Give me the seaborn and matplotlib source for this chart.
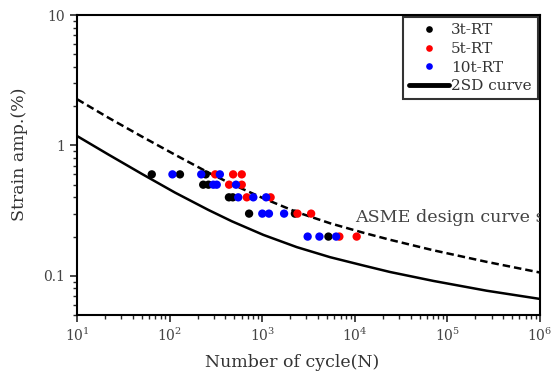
import matplotlib
matplotlib.use("Agg")
import matplotlib.pyplot as plt
import matplotlib.ticker as mticker
import pandas as pd
import seaborn as sns

# Test data (cycles to failure, strain amplitude %)
n_3t = [64, 129, 245, 230, 262, 436, 480, 720, 2250, 5180]
e_3t = [0.6, 0.6, 0.6, 0.5, 0.5, 0.4, 0.4, 0.3, 0.3, 0.2]
n_5t = [310, 484, 600, 438, 600, 680, 1230, 2400, 3370, 6800, 10460]
e_5t = [0.6, 0.6, 0.6, 0.5, 0.5, 0.4, 0.4, 0.3, 0.3, 0.2, 0.2]
n_10t = [107, 219, 348, 296, 322, 520, 550, 800, 1100, 1000, 1180, 1720, 3090, 4140, 6270]
e_10t = [0.6, 0.6, 0.6, 0.5, 0.5, 0.5, 0.4, 0.4, 0.4, 0.3, 0.3, 0.3, 0.2, 0.2, 0.2]

# Curves
n_curve = [10, 21.8, 50, 114, 262, 469, 1028, 2360, 5400, 12360, 24000, 70500, 265000, 1e6]
sd2_curve = [1.18, 0.851, 0.605, 0.435, 0.320, 0.262, 0.206, 0.166, 0.139, 0.120, 0.107, 0.0914, 0.0769, 0.0665]
asme_curve = [2.26, 1.63, 1.17, 0.849, 0.619, 0.505, 0.393, 0.308, 0.253, 0.214, 0.189, 0.157, 0.128, 0.106]

groups = ["3t-RT", "5t-RT", "10t-RT"]
colors = {"3t-RT": "#000000", "5t-RT": "#ff0000", "10t-RT": "#0000ff"}

df = pd.concat([
    pd.DataFrame({"N": n_3t, "strain": e_3t, "group": "3t-RT"}),
    pd.DataFrame({"N": n_5t, "strain": e_5t, "group": "5t-RT"}),
    pd.DataFrame({"N": n_10t, "strain": e_10t, "group": "10t-RT"}),
])

sns.set_style("ticks")
plt.rcParams["font.family"] = ["DejaVu Serif"]
plt.rcParams["mathtext.fontset"] = "dejavuserif"

fig, ax = plt.subplots(figsize=(5.55, 3.76), dpi=100)
fig.subplots_adjust(left=0.139, right=0.973, top=0.960, bottom=0.162)
ax.set_xscale("log")
ax.set_yscale("log")

sns.lineplot(x=n_curve, y=sd2_curve, color="black", lw=1.8, sort=False,
             estimator=None, label="2SD curve", ax=ax)
sns.lineplot(x=n_curve, y=asme_curve, color="black", lw=1.8, sort=False,
             estimator=None, linestyle=(0, (3, 1.6)), ax=ax)
sns.scatterplot(data=df, x="N", y="strain", hue="group", hue_order=groups,
                palette=colors, s=36, linewidth=0, ax=ax, zorder=3)

ax.text(1.0e4, 0.278, "ASME design curve s", fontsize=12.6, color="#444444",
        va="center", ha="left", clip_on=True)

ax.set_xlim(10, 1e6)
ax.set_ylim(0.05, 10)
ax.yaxis.set_major_locator(mticker.FixedLocator([0.1, 1, 10]))
ax.yaxis.set_major_formatter(mticker.FixedFormatter(["0.1", "1", "10"]))
ax.yaxis.set_minor_locator(mticker.LogLocator(base=10, subs=range(2, 10)))
ax.yaxis.set_minor_formatter(mticker.NullFormatter())
ax.xaxis.set_minor_locator(mticker.LogLocator(base=10, subs=range(2, 10)))
ax.xaxis.set_minor_formatter(mticker.NullFormatter())

ax.tick_params(which="major", direction="out", length=5, width=1.2,
               labelsize=10, labelcolor="#444444", top=False, right=False)
ax.tick_params(which="minor", direction="out", length=3, width=1.0,
               top=False, right=False)
for sp in ax.spines.values():
    sp.set_linewidth(1.5)
    sp.set_color("black")

ax.set_xlabel("Number of cycle(N)", fontsize=12.5, color="#333333", labelpad=7)
ax.set_ylabel("Strain amp.(%)", fontsize=12.5, color="#333333", labelpad=11)
ax.xaxis.label.set_x(0.465)
ax.yaxis.label.set_y(0.535)

handles, labels = ax.get_legend_handles_labels()
order = [labels.index(g) for g in groups] + [labels.index("2SD curve")]
leg = ax.legend([handles[i] for i in order], [labels[i] for i in order],
                loc="upper right", fontsize=11, frameon=True, fancybox=False,
                edgecolor="black", borderaxespad=0.15, handlelength=2.6,
                handletextpad=0.15, labelspacing=0.3, borderpad=0.4,
                markerscale=0.8)
leg.get_frame().set_linewidth(1.5)
for ln in leg.get_lines():
    ln.set_linewidth(3.5)
for t in leg.get_texts():
    t.set_color("#333333")

fig.savefig("out.png", dpi=100)
